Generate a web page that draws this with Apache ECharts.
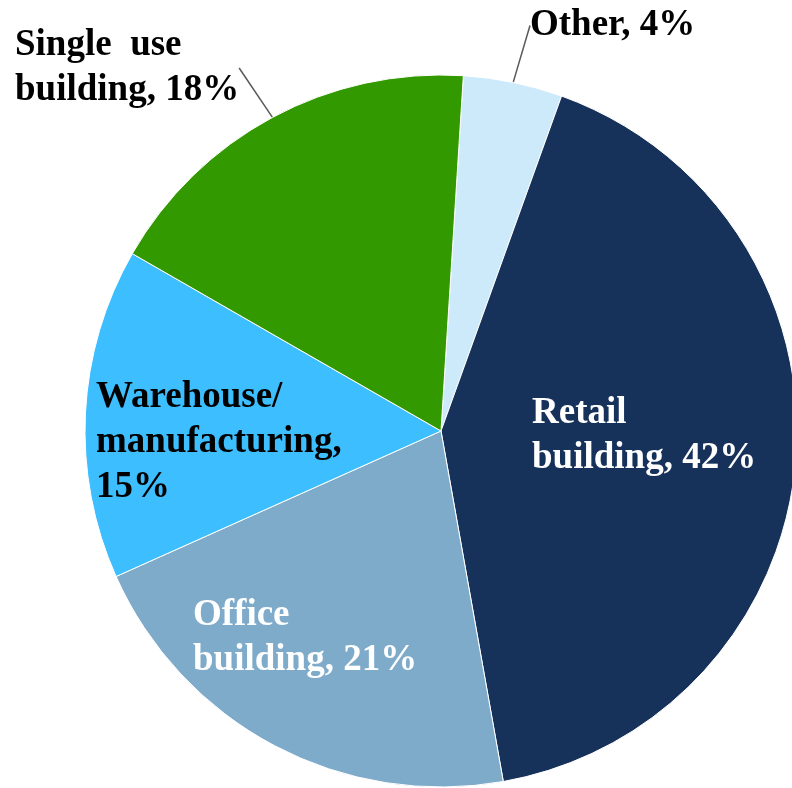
<!DOCTYPE html>
<html>
<head>
<meta charset="utf-8">
<script src="https://cdn.jsdelivr.net/npm/echarts@6/dist/echarts.min.js"></script>
<style>
  html, body { margin: 0; padding: 0; background: #fff; }
  #chart { width: 792px; height: 788px; }
</style>
</head>
<body>
<div id="chart"></div>
<script>
  // slices clockwise from 12 o'clock (shares)
  var categories = ['Other', 'Retail building', 'Office building', 'Warehouse/manufacturing', 'Single use building'];
  var shares = [4.5, 41.7, 21.1, 15.0, 17.7];
  var labelTexts = [
    'Other, 4%',
    'Retail\nbuilding, 42%',
    'Office\nbuilding, 21%',
    'Warehouse/\nmanufacturing,\n15%',
    'Single  use\nbuilding, 18%'
  ];
  var colors = ['#cdeafb', '#17325a', '#7fabcb', '#3dbeff', '#339900'];
  var labelColors = ['#000', '#fff', '#fff', '#000', '#000'];
  var outside = [true, false, false, false, true];
  // top-left corner of each label box
  var labelPos = [[530, 3], [532, 391], [193, 593], [96, 375], [15, 23]];

  var chart = echarts.init(document.getElementById('chart'));

  var data = categories.map(function (name, i) {
    return {
      name: name,
      value: shares[i],
      itemStyle: { color: colors[i] },
      label: { color: labelColors[i] },
      labelLine: { show: outside[i] }
    };
  });

  var option = {
    animation: false,
    series: [
      {
        type: 'pie',
        center: [441, 431],
        radius: [0, 356],
        startAngle: 86.4,
        clockwise: true,
        avoidLabelOverlap: false,
        itemStyle: { borderColor: '#fff', borderWidth: 1 },
        label: {
          show: true,
          position: 'outside',
          formatter: function (p) { return labelTexts[p.dataIndex]; },
          fontFamily: '"Liberation Serif", "Times New Roman", serif',
          fontWeight: 'bold',
          fontSize: 37,
          lineHeight: 45,
          align: 'left'
        },
        labelLine: {
          length: 20,
          length2: 0,
          lineStyle: { color: '#595959', width: 1.5 }
        },
        labelLayout: function (params) {
          var pos = labelPos[params.dataIndex];
          return { x: pos[0], y: pos[1], align: 'left', verticalAlign: 'top' };
        },
        data: data
      }
    ]
  };

  chart.setOption(option);
</script>
</body>
</html>
